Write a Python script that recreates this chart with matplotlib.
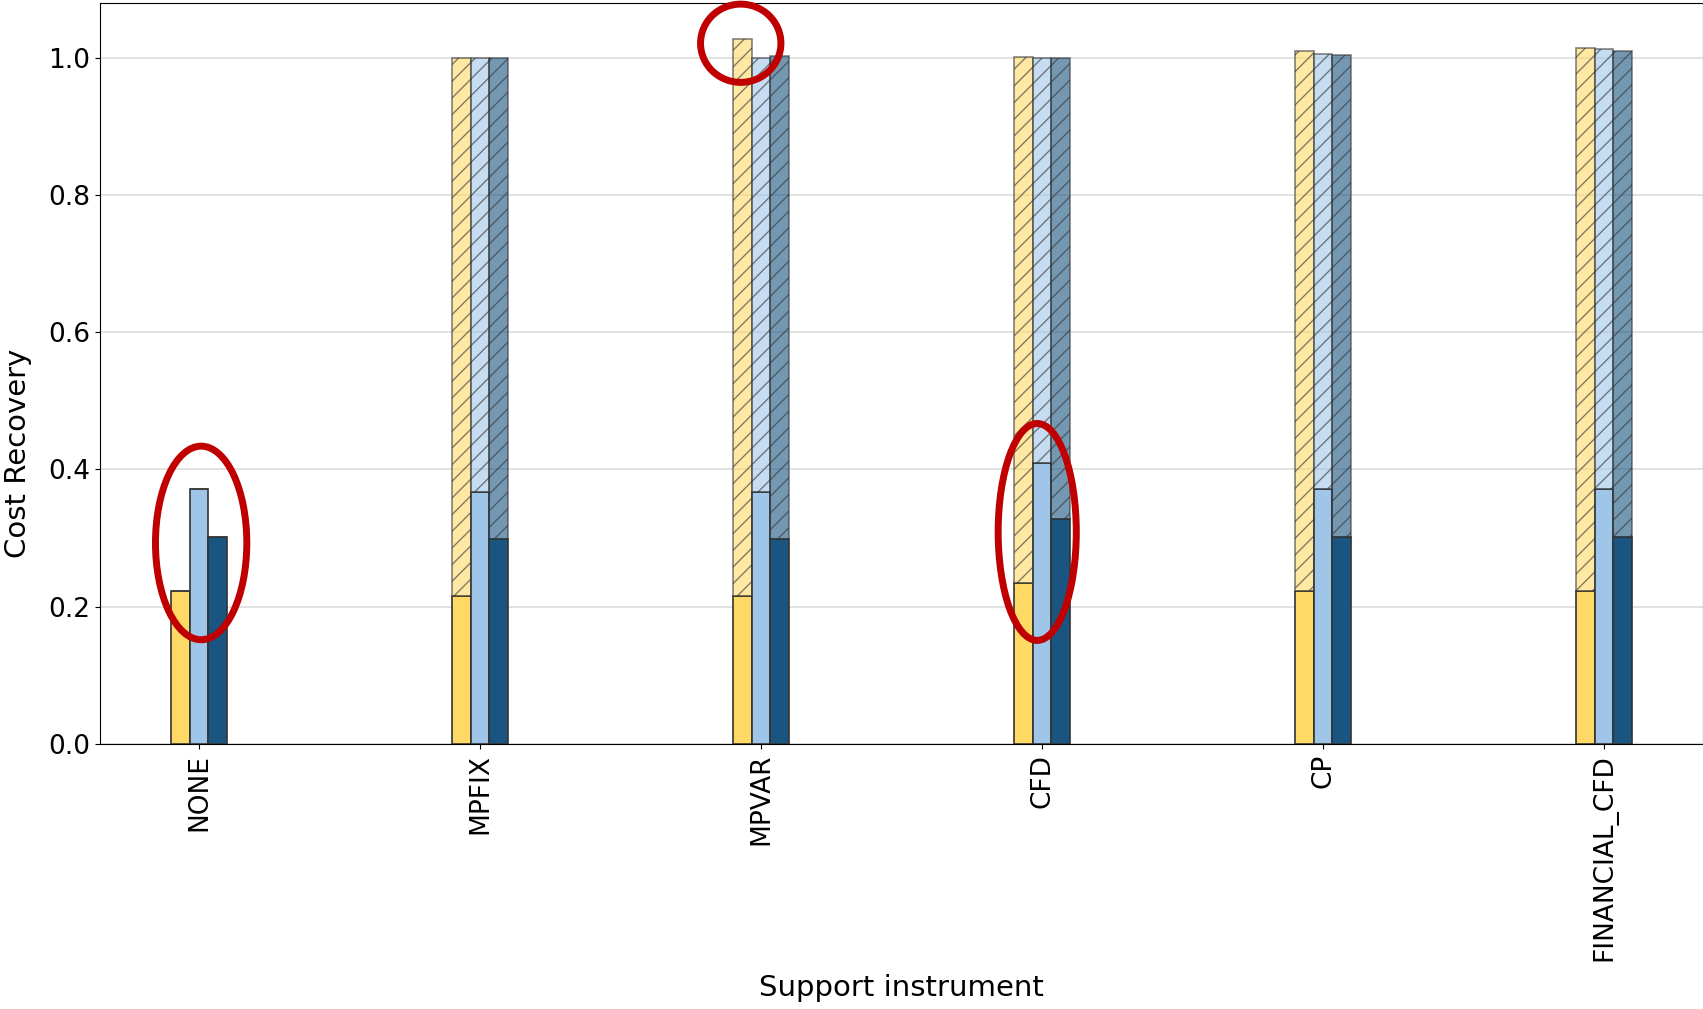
import numpy as np
import matplotlib
matplotlib.use("Agg")
import matplotlib.pyplot as plt
from matplotlib.patches import Ellipse

# data
instruments = ["NONE", "MPFIX", "MPVAR", "CFD", "CP", "FINANCIAL_CFD"]

# solid part (bottom) of each bar
yellow_low = [0.223, 0.215, 0.215, 0.234, 0.223, 0.223]
light_low = [0.372, 0.367, 0.367, 0.410, 0.372, 0.372]
dark_low = [0.302, 0.299, 0.299, 0.328, 0.302, 0.302]

# total height reached by the hatched part (NONE has none)
yellow_high = [0.223, 1.000, 1.027, 1.001, 1.009, 1.014]
light_high = [0.372, 1.000, 1.000, 1.000, 1.006, 1.012]
dark_high = [0.302, 1.000, 1.002, 1.000, 1.004, 1.009]

colors = ["#FFD966", "#9FC5E8", "#1A5480"]

################################################################

fig = plt.figure(figsize=(17.03, 10.09), dpi=100)
ax = fig.add_axes([0.0587, 0.2626, 0.9413, 0.734])

x = np.arange(len(instruments))
w = 0.2 / 3
series = [(yellow_low, yellow_high), (light_low, light_high), (dark_low, dark_high)]

for k, (low, high) in enumerate(series):
    pos = x + (k - 1) * w
    low = np.array(low)
    high = np.array(high)
    ax.bar(pos, low, width=w, color=colors[k], edgecolor="#333333",
           linewidth=1.2, zorder=3)
    ax.bar(pos, high - low, bottom=low, width=w, color=colors[k], alpha=0.6,
           hatch="//", edgecolor="#333333", linewidth=1.2, zorder=3)

ax.set_xlim(-0.352, 5.352)
ax.set_ylim(0, 1.079)
ax.set_xticks(x)
ax.set_xticklabels(instruments, rotation=90, fontsize=19)
ax.tick_params(axis="y", labelsize=19)
ax.set_yticks([0.0, 0.2, 0.4, 0.6, 0.8, 1.0])
ax.yaxis.grid(True, color="#dddddd", linewidth=1.2, zorder=0)
ax.set_axisbelow(True)
ax.set_ylabel("Cost Recovery", fontsize=21)
ax.yaxis.set_label_coords(-0.0424, 0.392)
ax.set_xlabel("Support instrument", fontsize=21, labelpad=10)

# red highlight rings
red = "#C00000"
for cx, cy, ew, eh in [(0.008, 0.293, 0.325, 0.282),
                       (1.928, 1.021, 0.286, 0.114),
                       (2.983, 0.309, 0.278, 0.316)]:
    ax.add_patch(Ellipse((cx, cy), ew, eh, fill=False, edgecolor=red,
                         linewidth=5, zorder=5, clip_on=False))

fig.savefig("out.png", dpi=100)
